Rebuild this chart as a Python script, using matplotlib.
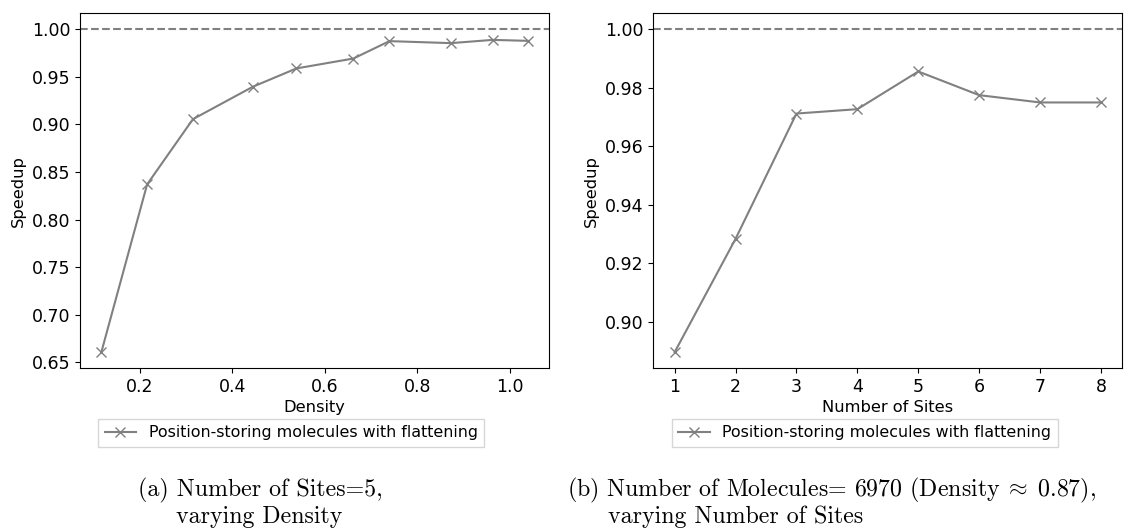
import matplotlib
matplotlib.use("Agg")
import matplotlib.pyplot as plt
import numpy as np

# Panel (a): speedup versus density, 5 sites
density = [0.117, 0.216, 0.315, 0.445, 0.539, 0.662, 0.740, 0.873, 0.963, 1.039]
speedup_density = [0.6605, 0.837, 0.9056, 0.9398, 0.959, 0.9694, 0.9877, 0.9856, 0.989, 0.988]

# Panel (b): speedup versus number of sites, 6970 molecules
sites = [1, 2, 3, 4, 5, 6, 7, 8]
speedup_sites = [0.8895, 0.9283, 0.9712, 0.9727, 0.9856, 0.9775, 0.975, 0.975]

series_label = "Position-storing molecules with flattening"
caption_a = ["(a) Number of Sites=5,", "varying Density"]
caption_b = [r"(b) Number of Molecules= 6970 (Density$\;\approx\;$0.87),",
             "varying Number of Sites"]

plt.rcParams["mathtext.fontset"] = "cm"
plt.rcParams["axes.unicode_minus"] = False

fig = plt.figure(figsize=(11.4, 5.32), dpi=100)
ax_a = fig.add_axes([0.0702, 0.3077, 0.4114, 0.6673])
ax_b = fig.add_axes([0.5731, 0.3077, 0.4114, 0.6673])

TICK_FS = 12.5
LABEL_FS = 11.7
LEGEND_FS = 11.4
line_kw = dict(color="grey", linewidth=1.5, marker="x", markersize=7,
               markeredgewidth=1.0)


def draw(ax, x, y, xlabel):
    ax.plot(x, y, label=series_label, **line_kw)
    ax.axhline(1.0, color="grey", linestyle="--", linewidth=1.5)
    lo = min(y)
    hi = max(max(y), 1.0)
    pad = 0.05 * (hi - lo)
    ax.set_ylim(lo - pad, hi + pad)
    ax.set_xlabel(xlabel, fontsize=LABEL_FS, labelpad=3)
    ax.set_ylabel("Speedup", fontsize=LABEL_FS, labelpad=4)
    ax.tick_params(labelsize=TICK_FS)
    ax.legend(loc="upper left", bbox_to_anchor=(0.039, -0.143),
              fontsize=LEGEND_FS, borderaxespad=0, handlelength=2.0,
              fancybox=False)


draw(ax_a, density, speedup_density, "Density")
draw(ax_b, sites, speedup_sites, "Number of Sites")
ax_a.set_xticks([0.2, 0.4, 0.6, 0.8, 1.0])
ax_b.set_xticks(sites)
ax_a.set_yticks(np.arange(0.65, 1.001, 0.05))
ax_b.set_yticks(np.arange(0.90, 1.001, 0.02))
ax_a.yaxis.set_major_formatter(matplotlib.ticker.FormatStrFormatter("%.2f"))
ax_b.yaxis.set_major_formatter(matplotlib.ticker.FormatStrFormatter("%.2f"))
ax_a.xaxis.set_major_formatter(matplotlib.ticker.FormatStrFormatter("%.1f"))

cap_kw = dict(fontsize=17.2, family="cmr10", va="baseline")
H = 532.0
W = 1140.0
fig.text(260 / W, 1 - 496 / H, caption_a[0], ha="center", **cap_kw)
fig.text(259 / W, 1 - 523 / H, caption_a[1], ha="center", **cap_kw)
fig.text(567 / W, 1 - 496 / H, caption_b[0], ha="left", **cap_kw)
fig.text(608 / W, 1 - 523 / H, caption_b[1], ha="left", **cap_kw)

fig.savefig("out.png", dpi=100)
